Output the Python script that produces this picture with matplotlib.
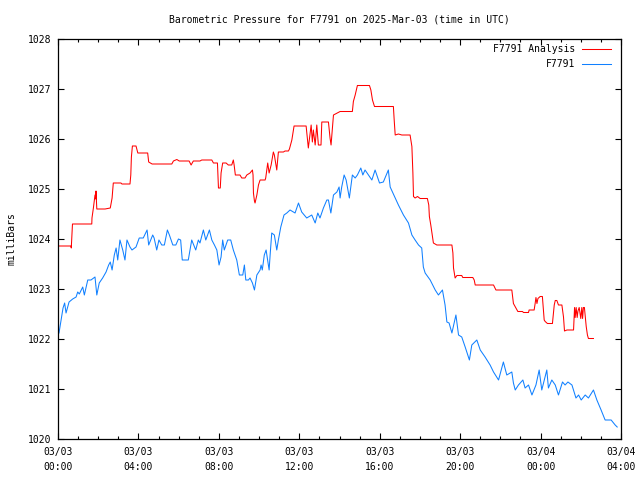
import matplotlib
matplotlib.use("Agg")
import matplotlib.pyplot as plt
import matplotlib.dates as mdates
import pandas as pd
import numpy as np

# hours after 2025-03-03 00:00 UTC, pressure in mbar
start = pd.Timestamp("2025-03-03 00:00")

obs_hours = [0.05, 0.25, 0.33, 0.40, 0.55, 0.73, 0.90, 0.98, 1.06, 1.23, 1.31, 1.39, 1.48, 1.64,
             1.84, 1.93, 2.05, 2.22, 2.39, 2.52, 2.60, 2.69, 2.80, 2.89, 2.97, 3.08, 3.22, 3.33,
             3.43, 3.58, 3.68, 3.88, 4.04, 4.24, 4.43, 4.51, 4.71, 4.78, 4.91, 5.02, 5.16, 5.29,
             5.44, 5.54, 5.71, 5.86, 5.99, 6.10, 6.18, 6.48, 6.65, 6.85, 6.98, 7.06, 7.23, 7.35,
             7.53, 7.65, 7.78, 7.90, 8.01, 8.11, 8.19, 8.27, 8.44, 8.59, 8.72, 8.89, 9.02, 9.19,
             9.27, 9.34, 9.47, 9.55, 9.67, 9.77, 9.89, 10.05, 10.10, 10.16, 10.26, 10.35, 10.50,
             10.55, 10.63, 10.76, 10.88, 10.96, 11.08, 11.24, 11.38, 11.54, 11.79, 11.96, 12.12,
             12.37, 12.62, 12.79, 12.92, 13.03, 13.20, 13.37, 13.45, 13.57, 13.70, 13.87, 13.98,
             14.03, 14.11, 14.23, 14.33, 14.49, 14.64, 14.78, 14.89, 15.06, 15.16, 15.27, 15.44,
             15.61, 15.77, 15.99, 16.18, 16.43, 16.52, 16.77, 16.93, 17.18, 17.43, 17.60, 17.76,
             17.93, 18.09, 18.17, 18.26, 18.51, 18.76, 18.92, 19.12, 19.25, 19.34, 19.45, 19.59,
             19.79, 19.92, 20.08, 20.25, 20.46, 20.58, 20.83, 21.00, 21.24, 21.49, 21.66, 21.91,
             22.15, 22.32, 22.57, 22.65, 22.74, 22.90, 23.12, 23.23, 23.40, 23.57, 23.77, 23.93,
             24.06, 24.31, 24.39, 24.56, 24.73, 24.89, 25.09, 25.22, 25.36, 25.56, 25.76, 25.89,
             26.02, 26.22, 26.38, 26.63, 26.80, 27.01, 27.21, 27.51, 27.71, 27.81]
obs_mbar = [1022.12, 1022.62, 1022.72, 1022.52, 1022.74, 1022.80, 1022.84, 1022.94, 1022.90,
            1023.04, 1022.88, 1023.02, 1023.18, 1023.18, 1023.24, 1022.88, 1023.12, 1023.22,
            1023.34, 1023.48, 1023.54, 1023.38, 1023.68, 1023.82, 1023.58, 1023.98, 1023.78,
            1023.58, 1023.98, 1023.84, 1023.78, 1023.84, 1024.02, 1024.02, 1024.18, 1023.88,
            1024.08, 1024.02, 1023.78, 1023.98, 1023.88, 1023.88, 1024.18, 1024.08, 1023.88,
            1023.88, 1024.00, 1023.98, 1023.58, 1023.58, 1023.98, 1023.78, 1023.98, 1023.92,
            1024.18, 1023.98, 1024.18, 1023.98, 1023.88, 1023.78, 1023.48, 1023.64, 1023.98,
            1023.78, 1023.98, 1023.98, 1023.78, 1023.58, 1023.28, 1023.28, 1023.48, 1023.18,
            1023.18, 1023.22, 1023.12, 1022.98, 1023.28, 1023.38, 1023.48, 1023.38, 1023.68,
            1023.78, 1023.38, 1023.68, 1024.12, 1024.08, 1023.78, 1023.98, 1024.24, 1024.48,
            1024.52, 1024.58, 1024.52, 1024.72, 1024.54, 1024.42, 1024.48, 1024.32, 1024.52,
            1024.42, 1024.62, 1024.78, 1024.78, 1024.52, 1024.88, 1024.94, 1025.04, 1024.82,
            1025.04, 1025.28, 1025.18, 1024.82, 1025.28, 1025.22, 1025.28, 1025.42, 1025.28,
            1025.38, 1025.28, 1025.18, 1025.38, 1025.12, 1025.14, 1025.38, 1025.04, 1024.82,
            1024.68, 1024.48, 1024.32, 1024.08, 1023.98, 1023.88, 1023.82, 1023.44, 1023.32,
            1023.18, 1022.98, 1022.88, 1022.98, 1022.68, 1022.34, 1022.32, 1022.12, 1022.48,
            1022.08, 1022.04, 1021.84, 1021.58, 1021.88, 1021.98, 1021.78, 1021.64, 1021.48,
            1021.34, 1021.18, 1021.54, 1021.28, 1021.34, 1021.12, 1020.98, 1021.08, 1021.18,
            1021.02, 1021.08, 1020.88, 1021.08, 1021.38, 1020.98, 1021.38, 1021.02, 1021.18,
            1021.08, 1020.88, 1021.14, 1021.08, 1021.14, 1021.08, 1020.82, 1020.88, 1020.78,
            1020.88, 1020.82, 1020.98, 1020.78, 1020.58, 1020.38, 1020.38, 1020.28, 1020.24]

ana_hours = [0.03, 0.65, 0.66, 0.72, 1.68, 1.69, 1.76, 1.81, 1.84, 1.88, 1.89, 1.93, 2.34, 2.60,
             2.69, 2.75, 3.13, 3.18, 3.58, 3.62, 3.65, 3.70, 3.88, 3.97, 4.46, 4.51, 4.68, 5.66,
             5.74, 5.91, 6.03, 6.52, 6.62, 6.73, 7.06, 7.15, 7.65, 7.73, 7.93, 7.98, 8.07, 8.11,
             8.19, 8.36, 8.47, 8.64, 8.72, 8.76, 8.82, 9.05, 9.14, 9.30, 9.39, 9.55, 9.67, 9.70,
             9.72, 9.77, 9.80, 9.89, 9.97, 10.05, 10.30, 10.33, 10.43, 10.50, 10.60, 10.71, 10.76,
             10.88, 10.96, 11.21, 11.29, 11.46, 11.51, 11.63, 11.74, 12.34, 12.45, 12.59, 12.65,
             12.70, 12.79, 12.87, 12.95, 13.08, 13.12, 13.45, 13.53, 13.58, 13.65, 13.70, 14.03,
             14.64, 14.69, 14.78, 14.89, 15.49, 15.56, 15.64, 15.74, 16.68, 16.72, 16.77, 16.93,
             17.10, 17.51, 17.60, 17.65, 17.68, 17.76, 17.88, 18.01, 18.37, 18.44, 18.47, 18.54,
             18.67, 18.84, 19.59, 19.64, 19.67, 19.75, 19.84, 20.08, 20.13, 20.63, 20.70, 20.75,
             21.66, 21.74, 21.78, 22.57, 22.60, 22.65, 22.79, 22.87, 23.10, 23.15, 23.40, 23.43,
             23.68, 23.73, 23.77, 23.82, 23.87, 23.98, 24.09, 24.18, 24.23, 24.34, 24.59, 24.68,
             24.73, 24.81, 24.89, 25.06, 25.14, 25.19, 25.31, 25.64, 25.69, 25.72, 25.77, 25.82,
             25.86, 25.92, 26.00, 26.05, 26.09, 26.13, 26.18, 26.27, 26.33, 26.38, 26.63]
ana_mbar = [1023.86, 1023.86, 1023.82, 1024.30, 1024.30, 1024.42, 1024.62, 1024.78, 1024.88,
            1024.80, 1024.96, 1024.60, 1024.60, 1024.62, 1024.82, 1025.12, 1025.12, 1025.10,
            1025.10, 1025.28, 1025.64, 1025.86, 1025.86, 1025.72, 1025.72, 1025.54, 1025.50,
            1025.50, 1025.56, 1025.59, 1025.56, 1025.56, 1025.48, 1025.56, 1025.56, 1025.58,
            1025.58, 1025.52, 1025.52, 1025.02, 1025.02, 1025.32, 1025.52, 1025.52, 1025.48,
            1025.48, 1025.58, 1025.48, 1025.28, 1025.28, 1025.22, 1025.22, 1025.28, 1025.32,
            1025.38, 1025.28, 1024.92, 1024.76, 1024.72, 1024.88, 1025.08, 1025.18, 1025.18,
            1025.22, 1025.52, 1025.32, 1025.48, 1025.74, 1025.68, 1025.38, 1025.74, 1025.74,
            1025.76, 1025.76, 1025.80, 1025.98, 1026.26, 1026.26, 1025.82, 1026.28, 1025.94,
            1026.18, 1025.88, 1026.28, 1025.88, 1025.88, 1026.34, 1026.34, 1026.02, 1025.88,
            1026.22, 1026.48, 1026.55, 1026.55, 1026.75, 1026.88, 1027.07, 1027.07, 1026.98,
            1026.78, 1026.65, 1026.65, 1026.38, 1026.08, 1026.10, 1026.08, 1026.08, 1025.85,
            1025.32, 1024.85, 1024.82, 1024.85, 1024.81, 1024.81, 1024.68, 1024.45, 1024.28,
            1023.92, 1023.88, 1023.88, 1023.72, 1023.42, 1023.22, 1023.27, 1023.27, 1023.23,
            1023.23, 1023.18, 1023.08, 1023.08, 1023.01, 1022.98, 1022.98, 1022.88, 1022.71,
            1022.61, 1022.55, 1022.55, 1022.53, 1022.53, 1022.58, 1022.58, 1022.71, 1022.83,
            1022.71, 1022.81, 1022.85, 1022.85, 1022.38, 1022.35, 1022.31, 1022.31, 1022.68,
            1022.77, 1022.77, 1022.68, 1022.68, 1022.44, 1022.16, 1022.18, 1022.18, 1022.63,
            1022.43, 1022.63, 1022.43, 1022.56, 1022.63, 1022.41, 1022.63, 1022.41, 1022.63,
            1022.63, 1022.25, 1022.08, 1022.01, 1022.01]

obs_time = start + pd.to_timedelta(obs_hours, unit="h")
ana_time = start + pd.to_timedelta(ana_hours, unit="h")

plt.rcParams['font.family'] = 'DejaVu Sans Mono'
plt.rcParams['font.size'] = 7

fig = plt.figure(figsize=(6.4, 4.8), dpi=100)
ax = fig.add_axes([58 / 640, 41 / 480, 563 / 640, 400 / 480])

ax.plot(ana_time, ana_mbar, color='#ff0000', linewidth=0.75)
ax.plot(obs_time, obs_mbar, color='#1080ff', linewidth=0.75)

ax.set_xlim(start, start + pd.Timedelta(hours=28))
ax.set_ylim(1020, 1028)
ax.set_yticks(np.arange(1020, 1029, 1))
ax.yaxis.set_major_formatter(plt.FormatStrFormatter('%d'))

ax.xaxis.set_major_locator(mdates.HourLocator(byhour=range(0, 24, 4)))
ax.xaxis.set_minor_locator(mdates.HourLocator())
ax.xaxis.set_major_formatter(mdates.DateFormatter('%m/%d\n%H:%M'))

ax.tick_params(which='both', direction='in', top=True, right=True, colors='black')
ax.tick_params(which='major', length=4.5, width=0.8, pad=6)
ax.tick_params(axis='y', pad=5)
ax.tick_params(which='minor', length=2.3, width=0.8)
for s in ax.spines.values():
    s.set_linewidth(0.9)

for lbl in ax.get_xticklabels():
    lbl.set_linespacing(1.6)

ax.set_ylabel('milliBars', labelpad=8)
fig.text(339 / 640, 1 - 20 / 480, 'Barometric Pressure for F7791 on 2025-Mar-03 (time in UTC)',
         ha='center', va='center')

# gnuplot style key: text right aligned, sample to the right
key = [('F7791 Analysis', '#ff0000'), ('F7791', '#1080ff')]
for i, (name, col) in enumerate(key):
    yk = 0.975 - i * 0.0375
    ax.text(0.918, yk, name, transform=ax.transAxes, ha='right', va='center')
    ax.plot([0.931, 0.982], [yk, yk], transform=ax.transAxes, color=col, linewidth=0.75)

fig.savefig('out.png', dpi=100)
